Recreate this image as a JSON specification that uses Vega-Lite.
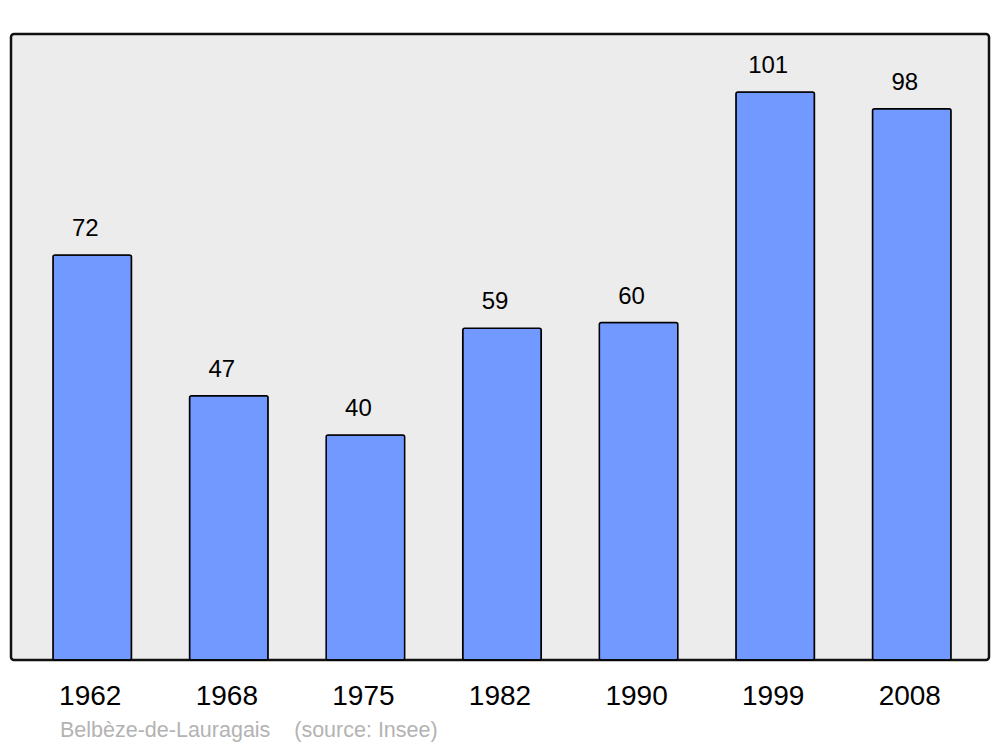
{
  "$schema": "https://vega.github.io/schema/vega-lite/v6.json",
  "width": 978,
  "height": 626,
  "autosize": {"type": "none"},
  "padding": {"left": 11, "top": 34, "right": 11, "bottom": 87},
  "background": "white",
  "data": {"values": [
    {"year": "1962", "pop": 72},
    {"year": "1968", "pop": 47},
    {"year": "1975", "pop": 40},
    {"year": "1982", "pop": 59},
    {"year": "1990", "pop": 60},
    {"year": "1999", "pop": 101},
    {"year": "2008", "pop": 98}
  ]},
  "title": {
    "text": "Belbèze-de-Lauragais\u00a0\u00a0\u00a0\u00a0(source: Insee)",
    "orient": "bottom",
    "anchor": "start",
    "dx": 49,
    "offset": 10,
    "font": "Liberation Sans",
    "fontSize": 21.5,
    "fontWeight": "normal",
    "color": "#b3b3b3"
  },
  "config": {
    "view": {"fill": "#ececec", "stroke": "#111111", "strokeWidth": 2.5, "cornerRadius": 3}
  },
  "encoding": {
    "x": {
      "field": "year", "type": "ordinal",
      "scale": {"paddingInner": 0.425, "paddingOuter": 0.2925},
      "axis": {"title": null, "ticks": false, "domain": false, "labelAngle": 0, "labelFont": "Liberation Sans", "labelFontSize": 28, "labelColor": "#000000", "labelPadding": 22}
    },
    "y": {
      "field": "pop", "type": "quantitative",
      "scale": {"domain": [0, 111.3], "nice": false},
      "axis": null
    }
  },
  "layer": [
    {
      "mark": {"type": "bar", "fill": "#7299ff", "stroke": "#000000", "strokeWidth": 1.5, "cornerRadius": 2, "xOffset": 2}
    },
    {
      "mark": {"type": "text", "baseline": "alphabetic", "dy": -19, "dx": -5, "font": "Liberation Sans", "fontSize": 24, "color": "#000000"},
      "encoding": {"text": {"field": "pop", "type": "quantitative"}}
    }
  ]
}
